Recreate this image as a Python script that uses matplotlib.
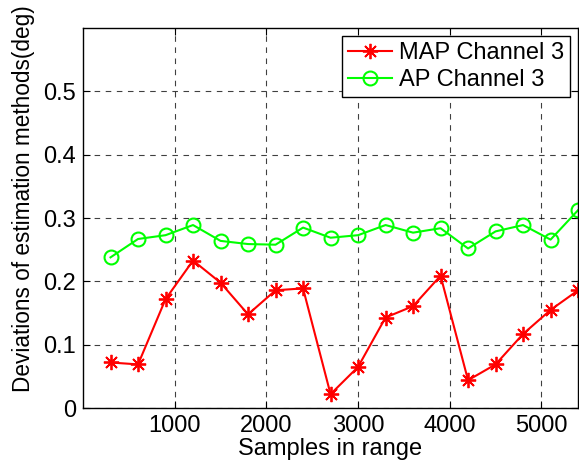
import matplotlib
matplotlib.use("Agg")
import matplotlib.pyplot as plt

samples = [300, 600, 900, 1200, 1500, 1800, 2100, 2400, 2700, 3000,
           3300, 3600, 3900, 4200, 4500, 4800, 5100, 5400]
map_ch3 = [0.072, 0.069, 0.172, 0.233, 0.198, 0.148, 0.186, 0.189, 0.022, 0.065,
           0.143, 0.161, 0.209, 0.044, 0.069, 0.117, 0.155, 0.186]
ap_ch3 = [0.238, 0.267, 0.273, 0.289, 0.264, 0.259, 0.258, 0.285, 0.269, 0.273,
          0.289, 0.277, 0.284, 0.252, 0.279, 0.289, 0.266, 0.3125]
xticks = [1000, 2000, 3000, 4000, 5000]
yticks = [0, 0.1, 0.2, 0.3, 0.4, 0.5]

plt.rcParams['font.family'] = ['Liberation Sans', 'DejaVu Sans']
fig = plt.figure(figsize=(5.79, 4.68), dpi=100)
ax = fig.add_axes([0.1434, 0.128, 0.855, 0.812])

ax.plot(samples, map_ch3, color='#ff0000', lw=1.5, marker=(8, 2, 0), ms=11,
        mew=1.3, label='MAP Channel 3', clip_on=True)
ax.plot(samples, ap_ch3, color='#00ff00', lw=1.5, marker='o', ms=10,
        mfc='none', mew=1.5, label='AP Channel 3', clip_on=True)

ax.set_xlim(0, 5400)
ax.set_ylim(0, 0.6)
ax.set_xticks(xticks)
ax.set_yticks(yticks)
ax.set_yticklabels(['0', '0.1', '0.2', '0.3', '0.4', '0.5'])
ax.tick_params(direction='in', top=True, right=True, labelsize=17, length=5,
               width=0.8, pad=5)
ax.grid(True, color='black', linestyle=(0, (5, 5)), linewidth=0.8, alpha=0.75)
for s in ax.spines.values():
    s.set_linewidth(1.0)

ax.set_xlabel('Samples in range', fontsize=17, labelpad=1)
ax.set_ylabel('Deviations of estimation methods(deg)', fontsize=16.3)
ax.yaxis.set_label_coords(-0.097, 0.55)

leg = ax.legend(loc='upper right', fontsize=17, fancybox=False, framealpha=1,
                edgecolor='black', borderaxespad=0.35, handlelength=1.85,
                borderpad=0.25, labelspacing=0.2, handletextpad=0.3)
leg.get_frame().set_linewidth(1.0)

fig.savefig('out.png', dpi=100)
